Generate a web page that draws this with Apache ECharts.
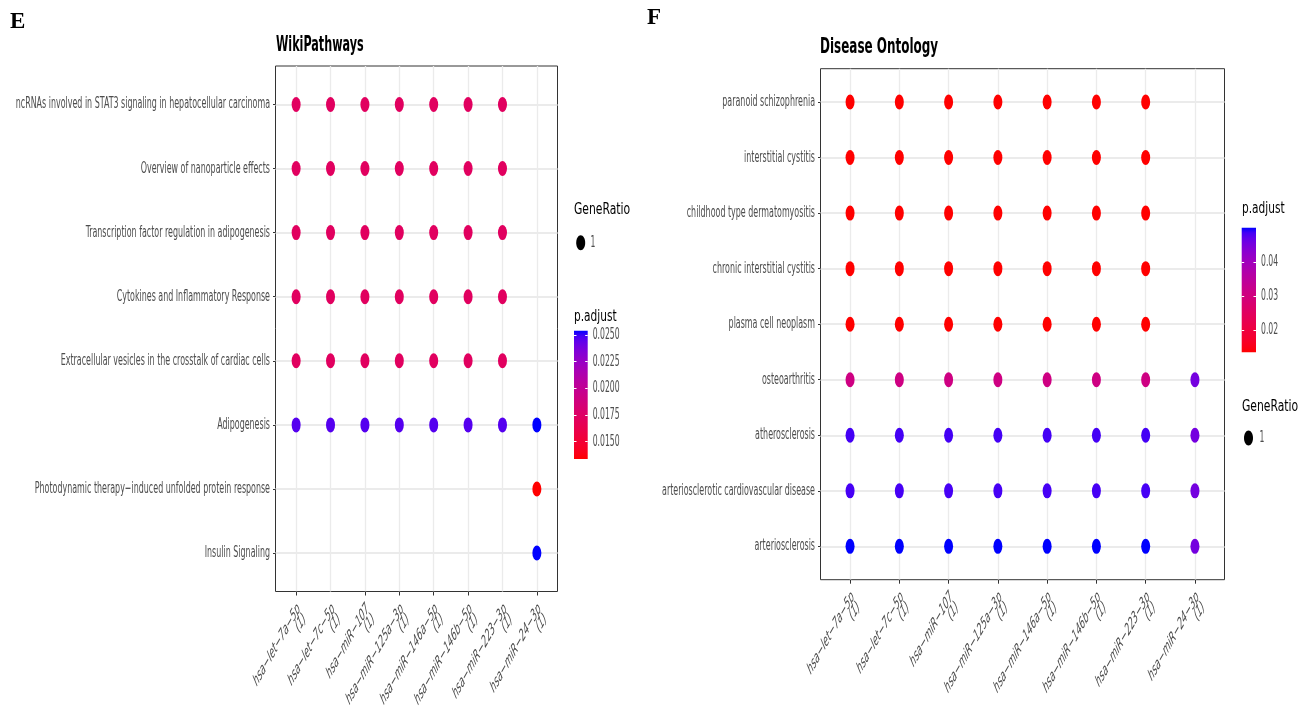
<!DOCTYPE html>
<html><head><meta charset="utf-8">
<script src="https://cdn.jsdelivr.net/npm/echarts@6/dist/echarts.min.js"></script>
<style>html,body{margin:0;padding:0;background:#fff}#c{width:1311px;height:718px}</style>
</head><body><div id="c"></div>
<script>
// ---------- DATA ----------
const miRNAs = ['hsa−let−7a−5p','hsa−let−7c−5p','hsa−miR−107','hsa−miR−125a−3p','hsa−miR−146a−5p','hsa−miR−146b−5p','hsa−miR−223−3p','hsa−miR−24−3p'];
const miRNACounts = [1,1,1,1,1,1,1,1];

const wikiTerms = [
  'ncRNAs involved in STAT3 signaling in hepatocellular carcinoma',
  'Overview of nanoparticle effects',
  'Transcription factor regulation in adipogenesis',
  'Cytokines and Inflammatory Response',
  'Extracellular vesicles in the crosstalk of cardiac cells',
  'Adipogenesis',
  'Photodynamic therapy−induced unfolded protein response',
  'Insulin Signaling'
];
// p.adjust per term (rows) x miRNA (columns); null = no dot
const wikiPAdjust = [
  [0.0172,0.0172,0.0172,0.0172,0.0172,0.0172,0.0172,null],
  [0.0172,0.0172,0.0172,0.0172,0.0172,0.0172,0.0172,null],
  [0.0172,0.0172,0.0172,0.0172,0.0172,0.0172,0.0172,null],
  [0.0172,0.0172,0.0172,0.0172,0.0172,0.0172,0.0172,null],
  [0.0172,0.0172,0.0172,0.0172,0.0172,0.0172,0.0172,null],
  [0.0246,0.0246,0.0246,0.0246,0.0246,0.0246,0.0246,0.0254],
  [null,null,null,null,null,null,null,0.01338],
  [null,null,null,null,null,null,null,0.0254]
];
const wikiTicks = [0.0150,0.0175,0.0200,0.0225,0.0250];

const doTerms = [
  'paranoid schizophrenia',
  'interstitial cystitis',
  'childhood type dermatomyositis',
  'chronic interstitial cystitis',
  'plasma cell neoplasm',
  'osteoarthritis',
  'atherosclerosis',
  'arteriosclerotic cardiovascular disease',
  'arteriosclerosis'
];
const doPAdjust = [
  [0.0134,0.0134,0.0134,0.0134,0.0134,0.0134,0.0134,null],
  [0.0134,0.0134,0.0134,0.0134,0.0134,0.0134,0.0134,null],
  [0.0134,0.0134,0.0134,0.0134,0.0134,0.0134,0.0134,null],
  [0.0134,0.0134,0.0134,0.0134,0.0134,0.0134,0.0134,null],
  [0.0134,0.0134,0.0134,0.0134,0.0134,0.0134,0.0134,null],
  [0.0307,0.0307,0.0307,0.0307,0.0307,0.0307,0.0307,0.0455],
  [0.0487,0.0487,0.0487,0.0487,0.0487,0.0487,0.0487,0.0455],
  [0.0486,0.0486,0.0486,0.0486,0.0486,0.0486,0.0486,0.0455],
  [0.0502,0.0502,0.0502,0.0502,0.0502,0.0502,0.0502,0.0455]
];
const doTicks = [0.02,0.03,0.04];
const geneRatioLegend = ['1'];

// ---------- COLOUR (Lab interpolation red -> blue, like ggplot) ----------
function s2l(c){c/=255;return c<=0.04045?c/12.92:Math.pow((c+0.055)/1.055,2.4);}
function l2s(c){c=Math.max(0,Math.min(1,c));return Math.round(255*(c<=0.0031308?12.92*c:1.055*Math.pow(c,1/2.4)-0.055));}
function rgb2lab(rgb){const r=s2l(rgb[0]),g=s2l(rgb[1]),b=s2l(rgb[2]);
  const X=(0.4124*r+0.3576*g+0.1805*b)/0.95047,Y=0.2126*r+0.7152*g+0.0722*b,Z=(0.0193*r+0.1192*g+0.9505*b)/1.08883;
  const f=t=>t>0.008856?Math.cbrt(t):7.787*t+16/116;const fx=f(X),fy=f(Y),fz=f(Z);
  return [116*fy-16,500*(fx-fy),200*(fy-fz)];}
function lab2rgb(lab){const fy=(lab[0]+16)/116,fx=fy+lab[1]/500,fz=fy-lab[2]/200;
  const fi=t=>t*t*t>0.008856?t*t*t:(t-16/116)/7.787;const X=0.95047*fi(fx),Y=fi(fy),Z=1.08883*fi(fz);
  const r=3.2406*X-1.5372*Y-0.4986*Z,g=-0.9689*X+1.8758*Y+0.0415*Z,b=0.0557*X-0.2040*Y+1.0570*Z;
  return 'rgb('+l2s(r)+','+l2s(g)+','+l2s(b)+')';}
const labLo=rgb2lab([255,0,0]),labHi=rgb2lab([0,0,255]);
const gradStops=[];for(let i=0;i<=24;i++){const t=i/24;gradStops.push(lab2rgb([0,1,2].map(k=>labLo[k]+(labHi[k]-labLo[k])*t)));}

// ---------- HELPERS ----------
const FONT='"DejaVu Sans Condensed","Liberation Sans",sans-serif';
const SQ=0.57;            // horizontal compression of the original figure
const XFS=17, XLEN=15/17; // x label font size and along-text shortening
function flat(m){const o=[];m.forEach((row,r)=>row.forEach((v,c)=>{if(v!==null)o.push([c,r,v]);}));return o;}
function range(m){const v=m.flat().filter(x=>x!==null);return [Math.min(...v),Math.max(...v)];}
const wikiR=range(wikiPAdjust),doR=range(doPAdjust);
const xLabels=miRNAs.map((m,i)=>m+'\n('+miRNACounts[i]+')');
const idx=n=>Array.from({length:n},(_,i)=>i);

function mainX(g){return {gridIndex:g,type:'value',min:-0.6,max:miRNAs.length-1+0.6,
  axisLine:{show:false,onZero:false},
  axisTick:{show:true,length:4,lineStyle:{color:'#333',width:1},customValues:idx(miRNAs.length)},
  axisLabel:{customValues:idx(miRNAs.length),formatter:v=>xLabels[Math.round(v)],rotate:60,align:'right',verticalAlign:'top',
    showMinLabel:true,showMaxLabel:true,hideOverlap:false,
    fontStyle:'italic',fontFamily:FONT,fontSize:XFS,color:'#4D4D4D',margin:10,lineHeight:14},
  splitLine:{show:true,lineStyle:{color:'#EBEBEB',width:1.3}}};}
function mainY(g,terms){return {gridIndex:g,type:'value',inverse:true,min:-0.6,max:terms.length-1+0.6,
  axisLine:{show:false,onZero:false},
  axisTick:{show:true,length:2.5,lineStyle:{color:'#333',width:1},customValues:idx(terms.length)},
  axisLabel:{customValues:idx(terms.length),formatter:v=>terms[Math.round(v)],showMinLabel:true,showMaxLabel:true,hideOverlap:false,
    fontFamily:FONT,fontSize:15.5,color:'#4D4D4D',margin:5.5},
  splitLine:{show:true,lineStyle:{color:'#EBEBEB',width:2}}};}
function barX(g){return {gridIndex:g,type:'value',min:0,max:1,show:false};}
function barY(g,r,ticks,dec,pos,labels){return {gridIndex:g,type:'value',min:r[0],max:r[1],position:pos,z:10,
  axisLine:{show:false,onZero:false},splitLine:{show:false},
  axisTick:{show:true,inside:true,length:2.5,lineStyle:{color:'#fff',width:1},customValues:ticks},
  axisLabel:{show:labels,customValues:ticks,formatter:v=>v.toFixed(dec),showMinLabel:true,showMaxLabel:true,
    fontFamily:FONT,fontSize:15,color:'#4D4D4D',margin:5}};}
function barSeries(xi,yi,r){return {type:'custom',xAxisIndex:xi,yAxisIndex:yi,z:1,silent:true,data:[[0,r[0],r[1]]],
  renderItem:(p,api)=>{const top=api.coord([0,api.value(2)]),bot=api.coord([0,api.value(1)]);const w=api.size([1,0])[0];
    return {type:'rect',shape:{x:top[0],y:top[1],width:w,height:bot[1]-top[1]},
      style:{fill:new echarts.graphic.LinearGradient(0,0,0,1,gradStops.slice().reverse().map((c,i,a)=>({offset:i/(a.length-1),color:c})))}};}};}

const chart=echarts.init(document.getElementById('c'),null,{renderer:'canvas'});
const txt=(x,y,t,font,sx,color)=>({type:'text',x:x,y:y,scaleX:sx||1,style:{x:0,y:0,text:t,font:font,fill:color||'#000',textAlign:'left',textVerticalAlign:'middle'}});
const gridBase={show:true,borderColor:'#333',borderWidth:1,backgroundColor:'transparent',containLabel:false,outerBoundsMode:'none'};
chart.setOption({
  animation:false,
  backgroundColor:'#fff',
  grid:[
    Object.assign({left:275.5,top:66,width:282,height:525.5},gridBase),
    Object.assign({left:820.5,top:68.7,width:404,height:511},gridBase),
    {left:574,top:330.7,width:13.7,height:128.3,containLabel:false,outerBoundsMode:'none'},
    {left:1241.7,top:227.7,width:14.3,height:124.6,containLabel:false,outerBoundsMode:'none'}
  ],
  xAxis:[mainX(0),mainX(1),barX(2),barX(3)],
  yAxis:[mainY(0,wikiTerms),mainY(1,doTerms),
    barY(2,wikiR,wikiTicks,4,'right',true),barY(3,doR,doTicks,2,'right',true),
    barY(2,wikiR,wikiTicks,4,'left',false),barY(3,doR,doTicks,2,'left',false)],
  visualMap:[
    {type:'continuous',show:false,seriesIndex:0,dimension:2,min:wikiR[0],max:wikiR[1],inRange:{color:gradStops}},
    {type:'continuous',show:false,seriesIndex:1,dimension:2,min:doR[0],max:doR[1],inRange:{color:gradStops}}
  ],
  series:[
    {type:'scatter',xAxisIndex:0,yAxisIndex:0,symbol:'circle',symbolSize:[9,15],itemStyle:{opacity:1},data:flat(wikiPAdjust),z:3},
    {type:'scatter',xAxisIndex:1,yAxisIndex:1,symbol:'circle',symbolSize:[9,15],itemStyle:{opacity:1},data:flat(doPAdjust),z:3},
    barSeries(2,2,wikiR),
    barSeries(3,3,doR)
  ],
  graphic:[
    txt(10,22,'E','bold 23px "Liberation Serif",serif'),
    txt(647,18,'F','bold 23px "Liberation Serif",serif'),
    txt(276,45,'WikiPathways','bold 22px '+FONT,0.565),
    txt(820,47,'Disease Ontology','bold 22px '+FONT,0.605),
    txt(574,210,'GeneRatio','16px '+FONT,0.75),
    {type:'ellipse',shape:{cx:580.7,cy:242.7,rx:4.5,ry:7.5},style:{fill:'#000'}},
    txt(590.5,243,geneRatioLegend[0],'15px '+FONT,SQ,'#4D4D4D'),
    txt(574,317,'p.adjust','16px '+FONT,0.735),
    txt(1242,209,'p.adjust','16px '+FONT,0.735),
    txt(1242,407,'GeneRatio','16px '+FONT,0.75),
    {type:'ellipse',shape:{cx:1248.5,cy:438,rx:4.5,ry:7.5},style:{fill:'#000'}},
    txt(1259.5,438,geneRatioLegend[0],'15px '+FONT,SQ,'#4D4D4D')
  ]
});

// ---- reproduce the horizontally compressed look of the original on the axis label texts ----
(function squash(){
  const TH=Math.PI/4, c=Math.cos(TH), s=Math.sin(TH);
  const m00=SQ*c, m10=-s, m01=SQ*s, m11=c;
  const sx=Math.hypot(m00,m10), phi=Math.atan2(-m10,m00);
  const ux=m00/sx, uy=m10/sx;
  const kx=m01*ux+m11*uy, sy=m01*(-uy)+m11*ux;
  const skew=Math.atan(kx/sy);
  const flatSet=new Set([...wikiTerms,...doTerms,...wikiTicks.map(v=>v.toFixed(4)),...doTicks.map(v=>v.toFixed(2))]);
  const rotSet=new Set(xLabels);
  const zr=chart.getZr();
  zr.storage.getRoots().forEach(root=>{
    const visit=el=>{
      if(el && el.style && typeof el.style.text==='string'){
        const t=el.style.text;
        if(flatSet.has(t)){el.scaleX=SQ;el.markRedraw&&el.markRedraw();}
        else if(rotSet.has(t)){el.ignore=false;el.rotation=phi;el.scaleX=sx*XLEN;el.scaleY=sy;el.skewX=skew;el.skewY=0;el.markRedraw&&el.markRedraw();}
      }
    };
    visit(root);
    if(root.traverse) root.traverse(visit);
  });
  zr.refreshImmediately();
})();
</script></body></html>
